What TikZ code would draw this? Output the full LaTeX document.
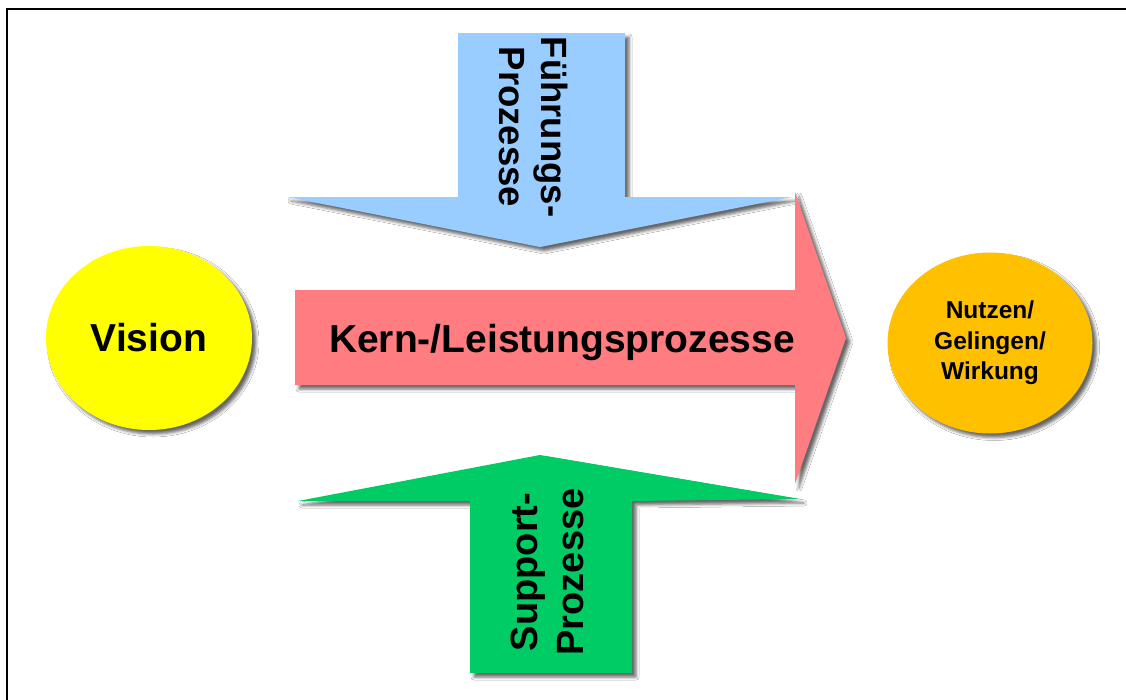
\documentclass[tikz,border=0pt]{standalone}
\usepackage{fontspec}
\setmainfont{Liberation Sans}
\usetikzlibrary{shapes.geometric,shadows.blur}
\definecolor{visyellow}{HTML}{FFFF00}
\definecolor{nutzorange}{HTML}{FFC000}
\definecolor{kernred}{HTML}{FF7C80}
\definecolor{fuehrblue}{HTML}{99CCFF}
\definecolor{suppgreen}{HTML}{00CC66}
\begin{document}
\begin{tikzpicture}[x=1pt,y=-1pt,
  shad/.style={blur shadow={shadow xshift=4pt,shadow yshift=-4pt,shadow blur radius=3pt,shadow opacity=60}},
  bubble/.style={ellipse,shad,inner sep=0pt,align=center,text=black},
  bigtxt/.style={font=\bfseries\fontsize{39}{46}\selectfont,text=black,inner sep=0pt},
  bluetxt/.style={font=\bfseries\fontsize{36.5}{42}\selectfont,text=black,inner sep=0pt,align=center},
  greentxt/.style={font=\bfseries\fontsize{38}{46}\selectfont,text=black,inner sep=0pt,align=center},
  smalltxt/.style={font=\bfseries\fontsize{24.5}{30.5}\selectfont}]
\useasboundingbox (0,0) rectangle (1126,699);
\fill[white] (0,0) rectangle (1126,699);
% frame
\draw[line width=2.2pt,black] (7,710) -- (7,9.3) -- (1140,9.3);
% Fuehrungs arrow (down)
\fill[fuehrblue,shad] (458,33) -- (625,33) -- (625,197) -- (792,197) -- (540,247) -- (287,197) -- (458,197) -- cycle;
\node[bluetxt,rotate=-90] (fuehr) at (534,127) {Führungs-\\Prozesse};
% Support arrow (up)
\fill[suppgreen,shad] (470,673) -- (632,673) -- (632,501) -- (800,499) -- (540,455) -- (298,501) -- (470,501) -- cycle;
\node[greentxt,rotate=90] (supp) at (547,572) {Support-\\Prozesse};
% Kern arrow
\fill[kernred,shad] (295,290) -- (795,290) -- (795,192) -- (846,338) -- (795,484) -- (795,385) -- (295,385) -- cycle;
\node[bigtxt,anchor=base] (kern) at (562,352) {Kern-/Leistungsprozesse};
% ellipses
\node[bubble,fill=visyellow,minimum width=206pt,minimum height=184pt,bigtxt] (vision) at (149,338) {Vision};
\node[bubble,fill=nutzorange,minimum width=205pt,minimum height=181pt,smalltxt] (nutzen) at (990,343) {Nutzen/\\Gelingen/\\Wirkung};
\end{tikzpicture}
\end{document}
